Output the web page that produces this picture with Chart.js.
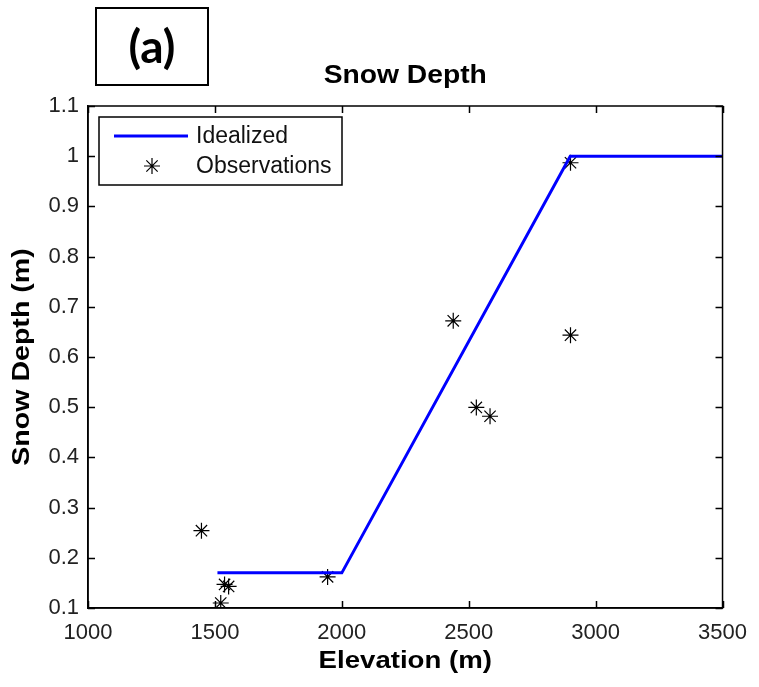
<!DOCTYPE html>
<html>
<head>
<meta charset="utf-8">
<script src="https://cdn.jsdelivr.net/npm/chart.js@4.4.0/dist/chart.umd.min.js"></script>
<style>
  html, body { margin: 0; padding: 0; background: #fff; }
  #wrap { width: 759px; height: 687px; }
</style>
</head>
<body>
<div id="wrap"><canvas id="c"></canvas></div>
<script>
// --- data ---
const xTicks = [1000, 1500, 2000, 2500, 3000, 3500];
const yTicks = [0.1, 0.2, 0.3, 0.4, 0.5, 0.6, 0.7, 0.8, 0.9, 1.0, 1.1];

const idealElev  = [1510, 2000, 2900, 3500];
const idealDepth = [0.17, 0.17, 1.0, 1.0];

const obsElev  = [1447, 1523, 1538, 1554, 1944, 2439, 2530, 2584, 2901, 2901];
const obsDepth = [0.254, 0.11, 0.147, 0.143, 0.162, 0.672, 0.4995, 0.482, 0.6435, 0.987];

const labelFont = '"Liberation Sans", Arial, sans-serif';

function toPts(xs, ys) {
  return xs.map((v, i) => ({ x: v, y: ys[i] }));
}

// stretched bold text, MATLAB export look
function drawText(ctx, text, x, y, size, sx, rot) {
  ctx.save();
  ctx.translate(x, y);
  if (rot) ctx.rotate(rot);
  ctx.scale(sx, 1);
  ctx.font = 'bold ' + size + 'px ' + labelFont;
  ctx.textAlign = 'center';
  ctx.textBaseline = 'middle';
  ctx.fillStyle = '#000';
  ctx.fillText(text, 0, 0);
  ctx.restore();
}

const frame = {
  id: 'frame',
  afterDatasetsDraw(chart) {
    const { ctx, chartArea: a, scales: { x, y } } = chart;
    ctx.save();

    // box + inward ticks on all sides
    ctx.strokeStyle = '#000';
    ctx.lineWidth = 1.5;
    ctx.strokeRect(a.left, a.top, a.right - a.left, a.bottom - a.top);
    const tl = 7;
    ctx.beginPath();
    xTicks.forEach(v => {
      const px = Math.round(x.getPixelForValue(v)) + 0.5;
      ctx.moveTo(px, a.bottom); ctx.lineTo(px, a.bottom - tl);
      ctx.moveTo(px, a.top); ctx.lineTo(px, a.top + tl);
    });
    yTicks.forEach(v => {
      const py = Math.round(y.getPixelForValue(v)) + 0.5;
      ctx.moveTo(a.left, py); ctx.lineTo(a.left + tl, py);
      ctx.moveTo(a.right, py); ctx.lineTo(a.right - tl, py);
    });
    ctx.stroke();

    // legend box
    const lx = a.left + 11, ly = a.top + 11, lw = 243, lh = 68;
    ctx.fillStyle = '#fff';
    ctx.fillRect(lx, ly, lw, lh);
    ctx.lineWidth = 1.5;
    ctx.strokeRect(lx, ly, lw, lh);
    const ds = chart.data.datasets;
    ctx.strokeStyle = ds[0].borderColor;
    ctx.lineWidth = ds[0].borderWidth;
    ctx.beginPath();
    ctx.moveTo(lx + 15, ly + 19); ctx.lineTo(lx + 89, ly + 19);
    ctx.stroke();
    ctx.strokeStyle = '#000';
    ctx.fillStyle = '#000';
    ctx.lineWidth = ds[1].pointBorderWidth;
    Chart.helpers.drawPoint(ctx, {
      pointStyle: 'star', radius: ds[1].pointRadius, borderWidth: ds[1].pointBorderWidth
    }, lx + 53, ly + 49);
    ctx.font = '23px ' + labelFont;
    ctx.fillStyle = '#111';
    ctx.textAlign = 'left';
    ctx.textBaseline = 'middle';
    ctx.fillText(ds[0].label, lx + 97, ly + 20);
    ctx.fillText(ds[1].label, lx + 97, ly + 50);

    // titles
    drawText(ctx, 'Snow Depth', (a.left + a.right) / 2, 76, 25, 1.13, 0);
    drawText(ctx, 'Elevation (m)', (a.left + a.right) / 2, 662, 23, 1.2, 0);
    drawText(ctx, 'Snow Depth (m)', 22, (a.top + a.bottom) / 2, 24, 1.19, -Math.PI / 2);

    // panel tag
    ctx.lineWidth = 2;
    ctx.strokeStyle = '#000';
    ctx.strokeRect(96, 8, 112, 77);
    ctx.font = 'bold 46px Lato, "Open Sans", sans-serif';
    ctx.fillStyle = '#000';
    ctx.textAlign = 'center';
    ctx.textBaseline = 'middle';
    ctx.fillText('(a)', 152, 48);

    ctx.restore();
  }
};

new Chart(document.getElementById('c'), {
  type: 'scatter',
  data: {
    datasets: [
      {
        label: 'Idealized',
        data: toPts(idealElev, idealDepth),
        showLine: true,
        borderColor: '#0000ff',
        borderWidth: 3,
        pointRadius: 0,
        fill: false
      },
      {
        label: 'Observations',
        data: toPts(obsElev, obsDepth),
        pointStyle: 'star',
        pointRadius: 8,
        pointBorderWidth: 1.2,
        pointBorderColor: '#000',
        pointBackgroundColor: '#000'
      }
    ]
  },
  options: {
    responsive: true,
    maintainAspectRatio: false,
    animation: false,
    layout: { padding: { top: 106, right: 34, left: 0, bottom: 0 } },
    plugins: { legend: { display: false }, tooltip: { enabled: false } },
    scales: {
      x: {
        type: 'linear', min: 1000, max: 3500,
        afterBuildTicks: s => { s.ticks = xTicks.map(v => ({ value: v })); },
        afterFit: s => { s.height = 79; },
        ticks: {
          font: { family: labelFont, size: 22 }, color: '#222', padding: 12, maxRotation: 0,
          callback: v => String(v)
        },
        grid: { drawOnChartArea: false, drawTicks: false },
        border: { color: '#000', width: 1.5 }
      },
      y: {
        min: 0.1, max: 1.1,
        afterBuildTicks: s => { s.ticks = yTicks.map(v => ({ value: v })); },
        afterFit: s => { s.width = 88; },
        ticks: {
          font: { family: labelFont, size: 22 }, color: '#222', padding: 9,
          callback: v => String(Number(v.toFixed(1)))
        },
        grid: { drawOnChartArea: false, drawTicks: false },
        border: { color: '#000', width: 1.5 }
      }
    }
  },
  plugins: [frame]
});
</script>
</body>
</html>
